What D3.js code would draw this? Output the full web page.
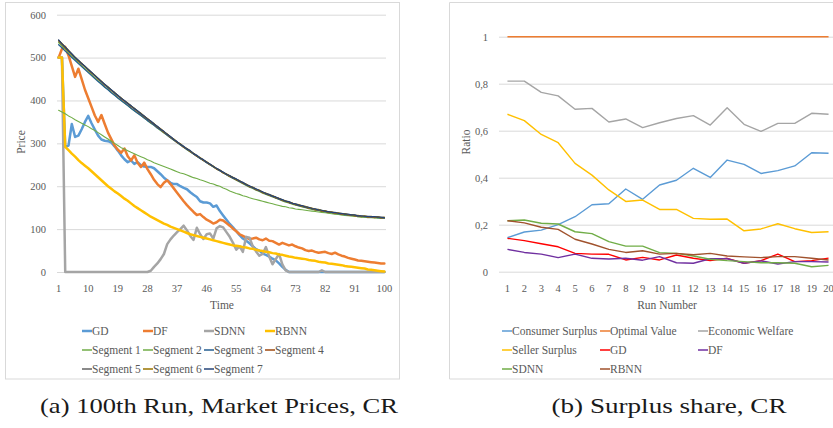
<!DOCTYPE html>
<html><head><meta charset="utf-8">
<script src="https://cdn.jsdelivr.net/npm/d3@7"></script>
<style>
html,body{margin:0;padding:0;background:#fff;}
svg{display:block;}
svg text{font-family:"Liberation Serif","DejaVu Serif",serif !important;}
</style></head><body>
<svg id="chart" width="833" height="428"></svg>
<script>
// ---------- Panel (a): market prices over time ----------
const timeSteps = d3.range(1, 101);
const priceTicks = [0, 100, 200, 300, 400, 500, 600];
const timeTickLabels = [1, 10, 19, 28, 37, 46, 55, 64, 73, 82, 91, 100];

const gdPrice = [
  500,500,292,295,345,315,318,333,350,364,
  347,332,318,309,306,305,302,293,283,272,
  263,256,260,252,256,249,246,245,245,242,
  235,228,220,214,208,205,205,200,196,193,
  186,180,175,165,162,162,160,152,155,142,
  132,122,112,104,95,86,78,73,67,60,
  53,50,43,40,36,31,27,20,12,5,
  0,0,0,0,0,0,0,0,0,0,
  0,0,0,0,0,0,0,0,0,0,
  0,0,0,0,0,0,0,0,0,0];
const dfPrice = [
  500,520,525,505,480,455,474,450,425,405,
  385,365,350,366,345,325,310,295,285,278,
  288,270,260,272,255,245,255,240,228,215,
  205,198,208,214,205,195,185,175,165,156,
  148,140,133,135,128,122,118,113,116,122,
  120,114,108,101,95,88,84,80,77,78,
  80,76,74,78,73,72,68,64,68,65,
  62,64,60,57,55,51,49,50,47,45,
  46,47,44,42,45,41,38,36,33,31,
  29,27,26,25,24,23,22,21,20,20];
const sdnnPrice = [
  500,500,0,0,0,0,0,0,0,0,
  0,0,0,0,0,0,0,0,0,0,
  0,0,0,0,0,0,0,0,3,12,
  20,30,42,65,76,85,93,100,108,97,
  84,75,103,88,77,88,90,78,102,107,
  104,93,82,68,52,60,47,82,80,60,
  48,38,42,58,36,18,30,42,18,4,
  0,0,0,0,0,0,0,0,0,0,
  4,0,0,0,0,0,0,0,0,0,
  0,0,0,0,0,0,0,0,0,0];
const rbnnPrice = [
  500,500,292,284,276,269,261,254,248,242,
  235,228,221,214,207,200,194,188,183,177,
  171,166,160,154,149,144,139,134,129,125,
  121,117,113,110,106,103,100,97,94,91,
  88,86,84,82,80,78,76,74,72,70,
  68,66,64,62,61,60,58,57,55,54,
  52,50,49,47,46,44,43,41,40,38,
  36,35,33,32,31,30,28,27,26,24,
  23,22,20,19,18,17,16,14,13,12,
  11,10,9,8,6,5,4,3,2,1];
const segment1 = [
  535,527,519,511,503,496,488,481,474,467,
  460,453,446,439,432,426,419,413,406,400,
  394,388,382,376,371,365,359,353,347,342,
  336,330,324,319,313,307,302,296,291,285,
  280,275,270,265,260,255,250,245,240,236,
  231,227,222,218,214,210,206,202,198,195,
  191,188,184,181,178,175,172,169,166,163,
  161,158,156,154,152,150,148,146,144,143,
  141,140,138,137,136,135,134,133,132,131,
  130,129,128,128,127,127,126,126,125,125];
const segment2 = [
  377,373,369,364,360,355,351,347,343,339,
  334,330,325,320,315,310,305,300,295,290,
  287,283,279,276,272,269,266,262,259,255,
  252,249,246,243,240,237,234,231,229,226,
  223,220,218,215,213,210,207,205,202,200,
  196,193,189,186,183,181,178,176,173,171,
  169,167,165,163,161,159,157,155,153,152,
  150,149,147,146,145,144,143,142,141,140,
  139,138,137,136,135,134,133,132,131,131,
  130,129,129,128,128,127,127,126,126,125];
const segment3 = [
  530,523,515,508,500,493,486,479,472,465,
  458,451,444,438,431,425,418,412,406,400,
  394,388,382,376,370,365,359,353,348,342,
  336,331,325,319,313,308,302,297,291,286,
  281,275,270,265,260,255,250,246,241,236,
  232,227,223,219,215,211,207,203,199,196,
  192,189,186,182,179,176,173,170,167,165,
  162,160,157,155,153,151,149,148,146,144,
  143,141,140,139,137,136,135,134,133,132,
  132,131,130,129,129,128,128,127,127,126];
const segment4 = [
  539,531,523,516,507,500,492,485,479,471,
  464,458,450,444,436,430,424,417,411,404,
  398,393,386,381,374,369,362,357,350,345,
  338,333,326,321,314,309,302,298,291,287,
  281,276,270,266,260,256,250,246,240,237,
  231,228,223,220,215,212,207,204,199,197,
  192,190,185,183,179,177,173,171,167,165,
  162,160,157,156,153,152,149,148,145,145,
  142,142,139,139,137,137,135,135,133,133,
  131,131,129,130,128,129,127,128,126,127];
const segment5 = [
  540,532,524,516,508,500,493,486,479,472,
  465,458,451,444,437,431,424,418,411,405,
  399,393,387,381,375,369,363,357,351,345,
  339,333,327,321,315,309,303,298,292,287,
  282,276,271,266,261,256,251,246,241,237,
  232,228,224,220,216,212,208,204,200,197,
  193,190,186,183,180,177,174,171,168,165,
  163,160,158,156,154,152,150,148,146,145,
  143,142,140,139,138,137,136,135,134,133,
  132,131,130,130,129,129,128,128,127,127];
const segment6 = [
  540,533,524,517,508,501,493,487,479,473,
  465,459,451,445,437,432,424,419,411,406,
  399,394,387,382,375,370,363,358,351,346,
  339,334,327,322,315,310,303,299,292,288,
  282,277,271,267,261,257,251,247,241,238,
  232,229,224,221,216,213,208,205,200,198,
  193,191,186,184,180,178,174,172,168,166,
  163,161,158,157,154,153,150,149,146,146,
  143,143,140,140,138,138,136,136,134,134,
  132,132,130,131,129,130,128,129,127,128];
const segment7 = [
  541,532,525,516,509,500,494,486,480,472,
  466,458,452,444,438,431,425,418,412,405,
  400,393,388,381,376,369,364,357,352,345,
  340,333,328,321,316,309,304,298,293,287,
  283,276,272,266,262,256,252,246,242,237,
  233,228,225,220,217,212,209,204,201,197,
  194,190,187,183,181,177,175,171,169,165,
  164,160,159,156,155,152,151,148,147,145,
  144,142,141,139,139,137,137,135,135,133,
  133,131,131,130,130,129,129,128,128,127];

// ---------- Panel (b): surplus share per run ----------
const runs = d3.range(1, 21);
const ratioTicks = [0, 0.2, 0.4, 0.6, 0.8, 1];
const ratioTickLabels = ["0", "0,2", "0,4", "0,6", "0,8", "1"];

const consumerSurplus = [0.145,0.169,0.177,0.200,0.234,0.285,0.289,0.352,0.308,0.369,0.389,0.440,0.401,0.475,0.457,0.418,0.430,0.450,0.506,0.504];
const optimalValue    = [1,1,1,1,1,1,1,1,1,1,1,1,1,1,1,1,1,1,1,1];
const economicWelfare = [0.811,0.811,0.763,0.748,0.691,0.695,0.637,0.650,0.613,0.634,0.652,0.664,0.624,0.698,0.627,0.597,0.631,0.631,0.674,0.670];
const sellerSurplus   = [0.670,0.643,0.584,0.549,0.461,0.411,0.348,0.299,0.305,0.265,0.265,0.227,0.223,0.224,0.174,0.182,0.204,0.183,0.167,0.170];
const gdShare   = [0.142,0.132,0.119,0.106,0.078,0.075,0.074,0.050,0.061,0.050,0.071,0.057,0.047,0.057,0.036,0.047,0.075,0.043,0.047,0.058];
const dfShare   = [0.095,0.082,0.075,0.060,0.075,0.057,0.054,0.057,0.049,0.064,0.038,0.036,0.055,0.055,0.036,0.046,0.033,0.043,0.043,0.041];
const sdnnShare = [0.217,0.220,0.206,0.203,0.170,0.162,0.128,0.109,0.109,0.081,0.078,0.067,0.053,0.047,0.043,0.038,0.038,0.036,0.021,0.027];
const rbnnShare = [0.217,0.208,0.189,0.180,0.138,0.118,0.095,0.082,0.089,0.075,0.078,0.072,0.078,0.067,0.063,0.060,0.064,0.064,0.057,0.050];

// ---------- Drawing ----------
const FONT = "Liberation Serif, DejaVu Serif, serif";
const GRID = "#d9d9d9";
const TEXT = "#595959";

const svg = d3.select("#chart").attr("font-family", FONT);
svg.append("rect").attr("width", 833).attr("height", 428).attr("fill", "#fff");

const center = (scale, d) => scale(d) + scale.bandwidth() / 2;

function styleAxis(g) {
  g.attr("font-family", FONT).attr("font-size", 10.5);
  g.select(".domain").remove();
  g.selectAll(".tick line").attr("stroke", GRID);
  g.selectAll(".tick text").attr("fill", TEXT);
}

function drawLegend(items, cols, rows, x0) {
  const g = svg.append("g").attr("font-size", 11.5).attr("fill", TEXT);
  items.forEach((it, i) => {
    const c = i % cols.length, r = Math.floor(i / cols.length);
    const x = x0 + cols[c], y = rows[r];
    g.append("line").attr("x1", x).attr("x2", x + 10).attr("y1", y).attr("y2", y)
      .attr("stroke", it.color).attr("stroke-width", it.legendWidth);
    g.append("text").attr("x", x + 10).attr("y", y).attr("dominant-baseline", "central").text(it.name);
  });
}

// ----- panel (a) -----
const A = {left: 57, right: 386, bottom: 272, top: 14.7};
const xA = d3.scaleBand().domain(timeSteps).range([A.left, A.right]);
const yA = d3.scaleLinear().domain([0, 600]).range([A.bottom, A.top]);

svg.append("rect").attr("x", 5.5).attr("y", 2.5).attr("width", 394).attr("height", 376.5)
  .attr("fill", "none").attr("stroke", GRID);

svg.append("g").attr("transform", `translate(${A.left},0)`)
  .call(d3.axisLeft(yA).tickValues(priceTicks).tickSize(-(A.right - A.left)).tickPadding(11))
  .call(styleAxis);
svg.append("g").attr("transform", `translate(0,${A.bottom})`)
  .call(d3.axisBottom(xA).tickValues(timeTickLabels).tickSize(0).tickPadding(13))
  .call(styleAxis);

const seriesA = [
  {name: "GD", values: gdPrice, color: "#5B9BD5", width: 2.5, legendWidth: 2.5},
  {name: "DF", values: dfPrice, color: "#ED7D31", width: 2.5, legendWidth: 2.5},
  {name: "SDNN", values: sdnnPrice, color: "#A5A5A5", width: 2.5, legendWidth: 2.5},
  {name: "RBNN", values: rbnnPrice, color: "#FFC000", width: 2.5, legendWidth: 2.5},
  {name: "Segment 1", values: segment1, color: "#70AD47", width: 1.25, legendWidth: 1.5},
  {name: "Segment 2", values: segment2, color: "#70AD47", width: 1.1, legendWidth: 1.5},
  {name: "Segment 3", values: segment3, color: "#255E91", width: 1.25, legendWidth: 1.5},
  {name: "Segment 4", values: segment4, color: "#9E480E", width: 1.25, legendWidth: 1.5},
  {name: "Segment 5", values: segment5, color: "#636363", width: 1.25, legendWidth: 1.5},
  {name: "Segment 6", values: segment6, color: "#997300", width: 1.25, legendWidth: 1.5},
  {name: "Segment 7", values: segment7, color: "#264478", width: 1.25, legendWidth: 1.5}
];
const lineA = d3.line().x((d, i) => center(xA, timeSteps[i])).y(d => yA(d));
svg.append("g").selectAll("path").data(seriesA).join("path")
  .attr("d", s => lineA(s.values)).attr("fill", "none")
  .attr("stroke", s => s.color).attr("stroke-width", s => s.width)
  .attr("stroke-linejoin", "round").attr("stroke-linecap", "round");

svg.append("text").attr("x", 222).attr("y", 309).attr("text-anchor", "middle")
  .attr("font-size", 11.5).attr("fill", TEXT).text("Time");
svg.append("text").attr("transform", "translate(25,142) rotate(-90)").attr("text-anchor", "middle")
  .attr("font-size", 11.5).attr("fill", TEXT).text("Price");

drawLegend(seriesA, [0, 61, 122, 183], [331, 350, 369], 82);

// ----- panel (b) -----
const B = {left: 499, right: 837, bottom: 271.7, top: 36.7};
const xB = d3.scaleBand().domain(runs).range([B.left, B.right]);
const yB = d3.scaleLinear().domain([0, 1]).range([B.bottom, B.top]);

svg.append("path").attr("d", "M849,2.5H449.5V379H849")
  .attr("fill", "none").attr("stroke", GRID);

svg.append("g").attr("transform", `translate(${B.left},0)`)
  .call(d3.axisLeft(yB).tickValues(ratioTicks).tickFormat((d, i) => ratioTickLabels[i])
    .tickSize(-(B.right - B.left)).tickPadding(11))
  .call(styleAxis);
svg.append("g").attr("transform", `translate(0,${B.bottom})`)
  .call(d3.axisBottom(xB).tickSize(0).tickPadding(13))
  .call(styleAxis);

const seriesB = [
  {name: "Consumer Surplus", values: consumerSurplus, color: "#5B9BD5"},
  {name: "Optimal Value", values: optimalValue, color: "#ED7D31"},
  {name: "Economic Welfare", values: economicWelfare, color: "#A5A5A5"},
  {name: "Seller Surplus", values: sellerSurplus, color: "#FFC000"},
  {name: "GD", values: gdShare, color: "#FF0000"},
  {name: "DF", values: dfShare, color: "#7030A0"},
  {name: "SDNN", values: sdnnShare, color: "#70AD47"},
  {name: "RBNN", values: rbnnShare, color: "#A0522D"}
].map(s => Object.assign(s, {width: 1.4, legendWidth: 1.5}));
const lineB = d3.line().x((d, i) => center(xB, runs[i])).y(d => yB(d));
svg.append("g").selectAll("path").data(seriesB).join("path")
  .attr("d", s => lineB(s.values)).attr("fill", "none")
  .attr("stroke", s => s.color).attr("stroke-width", s => s.width)
  .attr("stroke-linejoin", "round");

svg.append("text").attr("x", 667).attr("y", 309).attr("text-anchor", "middle")
  .attr("font-size", 11.5).attr("fill", TEXT).text("Run Number");
svg.append("text").attr("transform", "translate(470,142) rotate(-90)").attr("text-anchor", "middle")
  .attr("font-size", 11.5).attr("fill", TEXT).text("Ratio");

drawLegend(seriesB, [0, 98, 196], [331, 350, 369], 502);

// ----- captions -----
svg.append("text").attr("x", 219).attr("y", 413).attr("text-anchor", "middle")
  .attr("font-size", 21.5).attr("fill", "#1a1a1a")
  .attr("textLength", 358).attr("lengthAdjust", "spacingAndGlyphs")
  .text("(a) 100th Run, Market Prices, CR");
svg.append("text").attr("x", 669).attr("y", 413).attr("text-anchor", "middle")
  .attr("font-size", 21.5).attr("fill", "#1a1a1a")
  .attr("textLength", 235).attr("lengthAdjust", "spacingAndGlyphs")
  .text("(b) Surplus share, CR");
</script>
</body></html>
